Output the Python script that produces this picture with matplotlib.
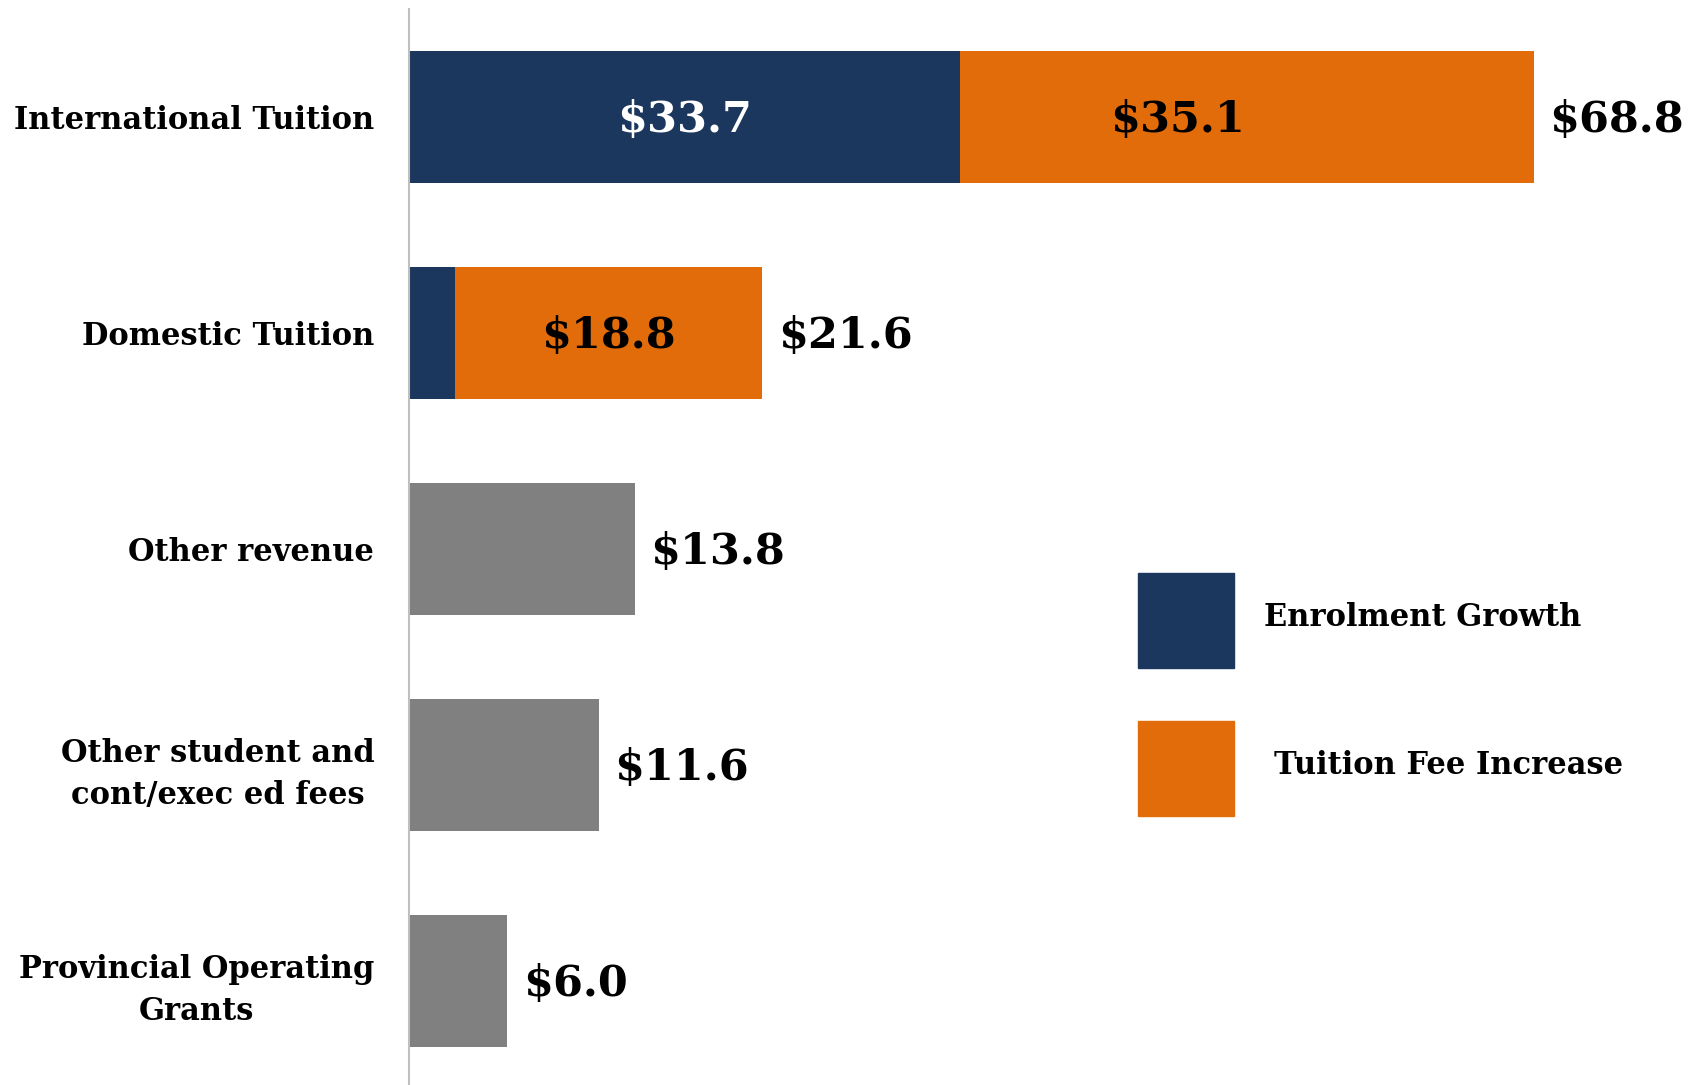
import matplotlib.pyplot as plt
from matplotlib.patches import Rectangle

# data ($ millions)
categories = ["International Tuition", "Domestic Tuition", "Other revenue",
              "Other student and\ncont/exec ed fees", "Provincial Operating\nGrants"]
enrolment = [33.7, 2.8, 0, 0, 0]
fee_increase = [35.1, 18.8, 0, 0, 0]
other = [0, 0, 13.8, 11.6, 6.0]
totals = [68.8, 21.6, 13.8, 11.6, 6.0]

navy = "#1B375E"
orange = "#E36C0A"
grey = "#808080"
font = "DejaVu Serif"
vsize = 31
lsize = 22

W, H = 1700, 1085
fig = plt.figure(figsize=(W / 100, H / 100), dpi=100)
ax = fig.add_axes([409 / W, 0, 1275 / W, 1 - 9 / H])

y = list(range(len(categories)))
ax.barh(y, enrolment, height=0.61, color=navy)
ax.barh(y, fee_increase, left=enrolment, height=0.61, color=orange)
ax.barh(y, other, height=0.61, color=grey)

ax.set_xlim(0, 78)
ax.set_ylim(4.48, -0.5)

# labels inside the stacked bars
inner = [(enrolment[0] / 2, 0, enrolment[0], "white"),
         (enrolment[0] + fee_increase[0] * 0.38, 0, fee_increase[0], "black"),
         (enrolment[1] + fee_increase[1] / 2, 1, fee_increase[1], "black")]
for xv, yv, v, c in inner:
    ax.annotate("$%.1f" % v, (xv, yv), xytext=(0, -2), textcoords="offset points",
                color=c, ha="center", va="center", fontsize=vsize,
                fontweight="bold", family=font)

# totals at bar ends
for i, t in enumerate(totals):
    ax.annotate("$%.1f" % t, (t, i), xytext=(11.5, -2), textcoords="offset points",
                ha="left", va="center", fontsize=vsize, fontweight="bold", family=font)

ax.set_yticks(y)
ax.set_yticklabels(categories, fontsize=lsize, fontweight="bold", family=font,
                   linespacing=1.45)
for lab in ax.get_yticklabels():
    lab.set_multialignment("center")
ax.tick_params(axis="y", length=0, pad=25)
ax.set_xticks([])
for s in ["top", "right", "bottom"]:
    ax.spines[s].set_visible(False)
ax.spines["left"].set_color("#BFBFBF")
ax.spines["left"].set_linewidth(1.5)

# legend drawn as big squares
legend = [("Enrolment Growth", navy, 573, 1264), ("Tuition Fee Increase", orange, 721, 1274)]
for name, col, top, tx in legend:
    fig.patches.append(Rectangle((1138 / W, 1 - (top + 95) / H), 96 / W, 95 / H,
                                 transform=fig.transFigure, color=col))
    fig.text(tx / W, 1 - (top + 45) / H, name, ha="left", va="center",
             fontsize=lsize, fontweight="bold", family=font)

fig.savefig("out.png", dpi=100)
